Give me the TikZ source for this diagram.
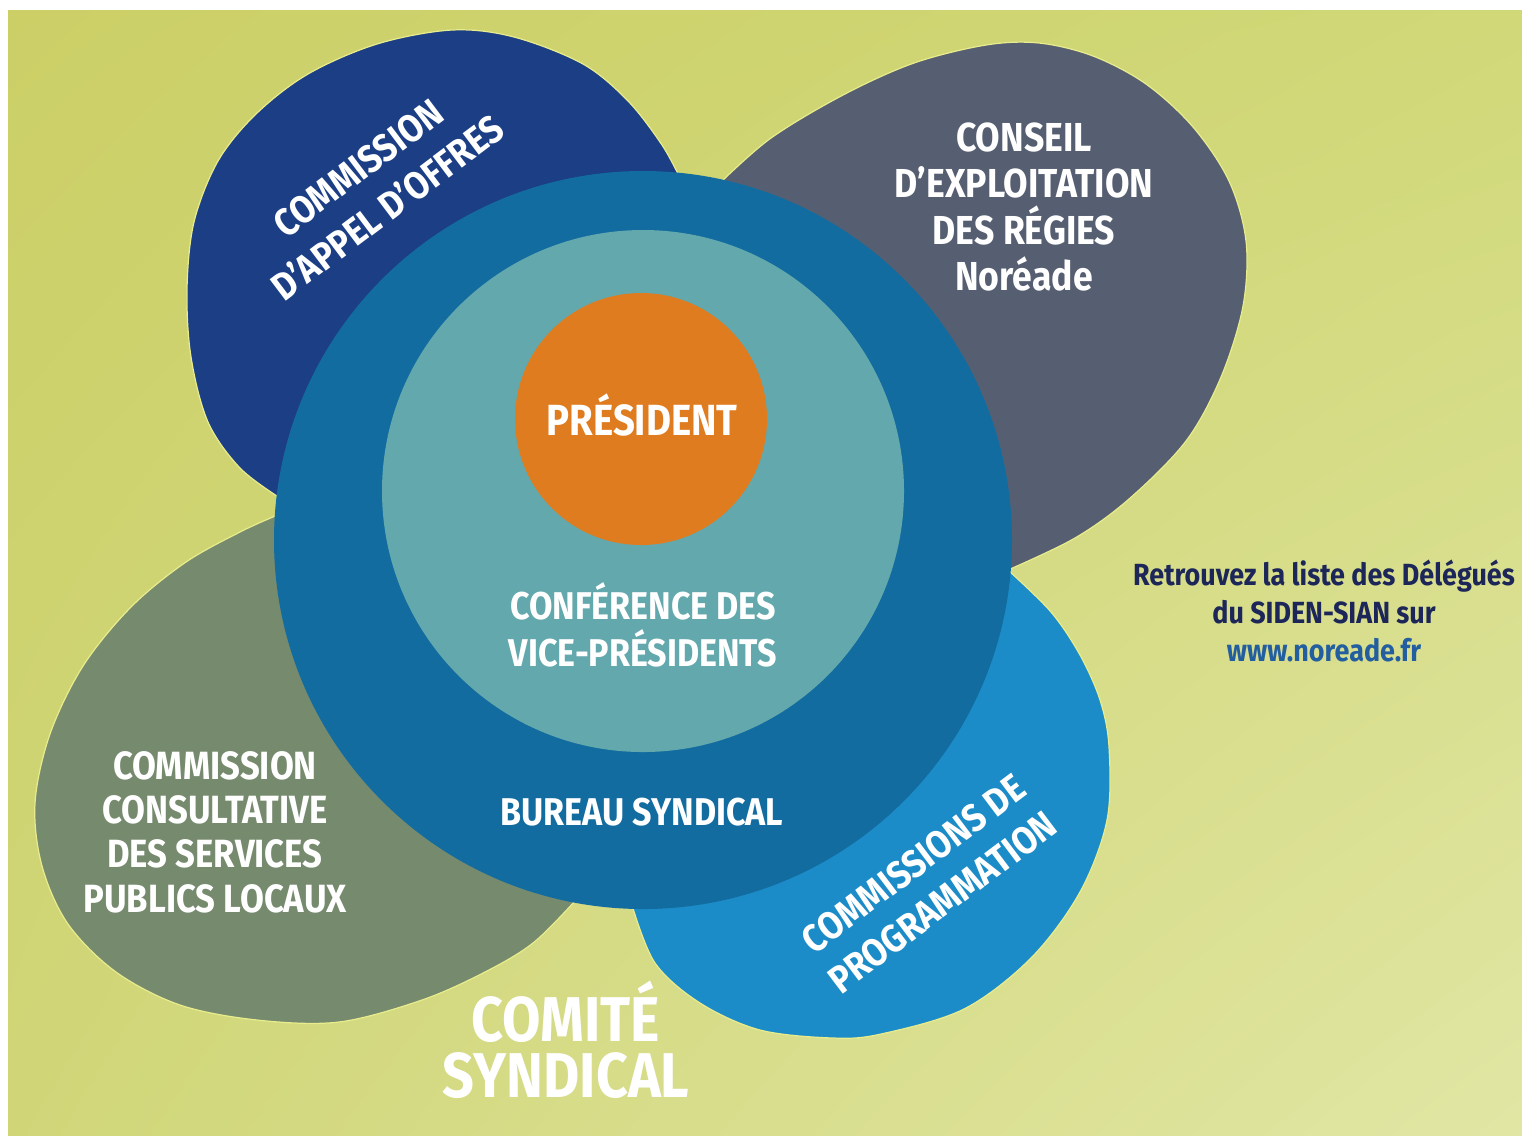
\documentclass[tikz,border=0pt]{standalone}
\usepackage{fontspec}
\usetikzlibrary{shadings}
\setmainfont{Fira Sans}[FakeStretch=0.88]
\definecolor{bgUL}{RGB}{204,207,102}
\definecolor{bgUR}{RGB}{208,216,120}
\definecolor{bgLL}{RGB}{208,214,120}
\definecolor{bgLR}{RGB}{225,230,164}
\definecolor{navyc}{RGB}{27,62,133}
\definecolor{greyc}{RGB}{86,95,114}
\definecolor{greenc}{RGB}{118,138,110}
\definecolor{bluec}{RGB}{28,140,200}
\definecolor{ringc}{RGB}{18,108,160}
\definecolor{innerc}{RGB}{98,168,172}
\definecolor{orangec}{RGB}{224,124,32}
\definecolor{halo}{RGB}{232,236,140}
\definecolor{darktext}{RGB}{28,38,88}
\definecolor{urltext}{RGB}{34,94,160}
\tikzset{
  petal/.style={draw=halo, line width=0.35pt, line join=round},
  wlbl/.style={text=white, align=center, inner sep=0pt, font=\bfseries},
}
\begin{document}
\begin{tikzpicture}[x=0.01cm,y=-0.01cm]
\useasboundingbox (0,0) rectangle (1522,1135);
\fill[white] (0,0) rectangle (1522,1135);
\shade[upper left=bgUL, upper right=bgUR, lower left=bgLL, lower right=bgLR] (8,10) rectangle (1522,1135);

% grey petal (top right)
\filldraw[petal, fill=greyc] plot[smooth, tension=0.55] coordinates {(721,182) (771,138) (843,95) (914,63) (986,45) (1039,43) (1093,56) (1146,84) (1193,127) (1229,181) (1246,241) (1243,306) (1221,377) (1186,441) (1129,499) (1075,538) (1008,570)} -- (800,420) -- cycle;
% navy petal (top left)
\filldraw[petal, fill=navyc] plot[smooth, tension=0.55] coordinates {(681,180) (662,145) (628,101) (583,64) (514,37) (452,30) (377,44) (308,74) (256,114) (218,161) (194,222) (187,289) (191,357) (208,422) (240,468) (280,498)} -- (500,420) -- cycle;
% green petal (bottom left)
\filldraw[petal, fill=greenc] plot[smooth, tension=0.55] coordinates {(280,514) (242,531) (186,562) (131,607) (83,666) (50,734) (35,803) (42,866) (68,924) (116,972) (180,1005) (257,1020) (339,1022) (422,1000) (485,972) (533,943) (574,902)} -- (450,700) -- cycle;
% blue petal (bottom right)
\filldraw[petal, fill=bluec] plot[smooth, tension=0.55] coordinates {(1008,570) (1051,612) (1080,655) (1100,700) (1109,747) (1107,820) (1080,892) (1031,958) (964,1009) (881,1034) (833,1038) (760,1030) (700,1003) (655,963) (632,905)} -- (820,700) -- cycle;

% rings
\fill[ringc] (643,540) circle[radius=369];
\fill[innerc] (643,491) circle[radius=261];
\fill[orangec] (641,419) circle[radius=126];

% labels
\node[wlbl, font=\fontsize{12.4}{12}\selectfont\bfseries] (pres) at (642,415) {PRÉSIDENT};
\node[wlbl, font=\fontsize{11}{13.3}\selectfont\bfseries] (conf) at (643,625) {CONFÉRENCE DES\\VICE-PRÉSIDENTS};
\node[wlbl, font=\fontsize{11}{13}\selectfont\bfseries] (bureau) at (642,812) {BUREAU SYNDICAL};
\node[wlbl, font=\fontsize{11.5}{13.1}\selectfont\bfseries] (conseil) at (1024,207) {CONSEIL\\D’EXPLOITATION\\DES RÉGIES\\Noréade};
\node[wlbl, font=\fontsize{11.2}{12.6}\selectfont\bfseries] (ccsp) at (215,832) {COMMISSION\\CONSULTATIVE\\DES SERVICES\\PUBLICS LOCAUX};
\node[wlbl, rotate=37, font=\fontsize{11}{14}\selectfont\bfseries] (cao) at (373,188) {COMMISSION\\D’APPEL D’OFFRES};
\node[wlbl, rotate=37, font=\fontsize{11}{13.6}\selectfont\bfseries] (cprog) at (928,883) {COMMISSIONS DE\\PROGRAMMATION};
\node[wlbl, font=\fontsize{18}{16}\selectfont\bfseries] (comite) at (566,1040) {COMITÉ\\SYNDICAL};
\node[align=center, inner sep=0pt, text=darktext, font=\fontsize{8.7}{10.7}\selectfont\bfseries] (info) at (1324,611) {Retrouvez la liste des Délégués\\du SIDEN-SIAN sur\\\textcolor{urltext}{www.noreade.fr}};
\end{tikzpicture}
\end{document}
